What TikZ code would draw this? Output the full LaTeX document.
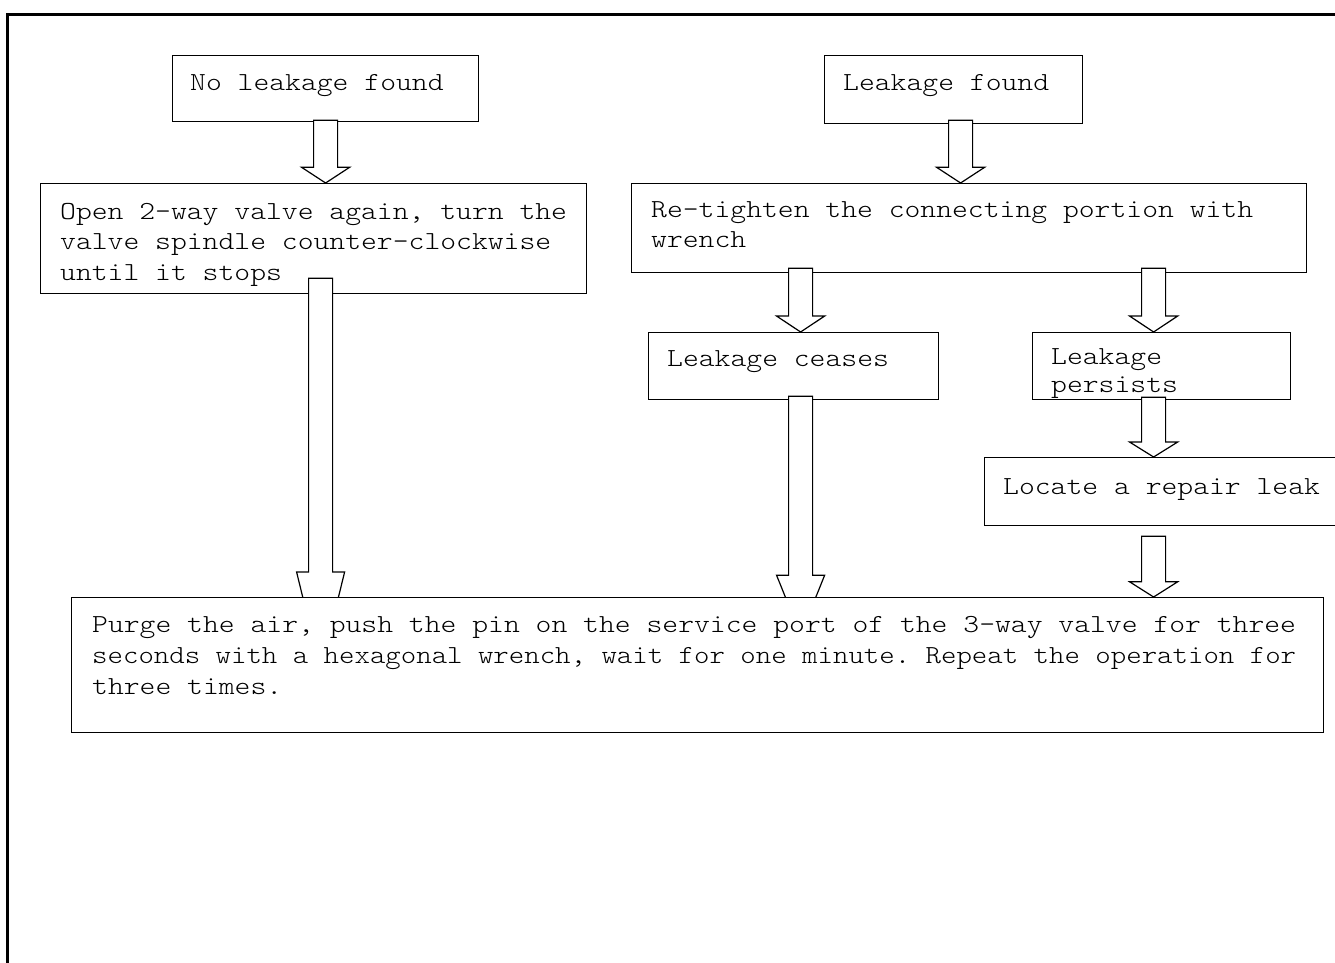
\documentclass[tikz,border=0pt]{standalone}
\usepackage{fontspec}
\usepackage{graphicx}
\newfontfamily\cour{lmmonolt10-regular.otf}[FakeStretch=1.1605]
\usetikzlibrary{calc}
\tikzset{
  box/.style={draw, fill=white, line width=1.2pt, inner sep=0pt, anchor=north west},
  txt/.style={anchor=north west, inner sep=0pt, align=left,
    font={\cour\fontsize{26}{30.7}\selectfont\frenchspacing}},
  barrow/.style={draw, fill=white, line width=1.2pt, line join=miter},
  frame/.style={line width=3pt}
}
% #1 source anchor (gives shaft top y), #2 tip point, #3 overlap of the shaft into the source
\newcommand\blockarr[3]{%
  \path[barrow] let \p1=(#1), \p2=(#2) in
    ({\x2-12pt},{\y1+#3}) -- ({\x2+12pt},{\y1+#3})
    -- ({\x2+12pt},{\y2+0.25*(\y1+#3-\y2)}) -- ({\x2+24pt},{\y2+0.25*(\y1+#3-\y2)})
    -- (\x2,\y2)
    -- ({\x2-24pt},{\y2+0.25*(\y1+#3-\y2)}) -- ({\x2-12pt},{\y2+0.25*(\y1+#3-\y2)})
    -- cycle;}
\begin{document}
\begin{tikzpicture}[x=1pt,y=-1pt]
\useasboundingbox (0,0) rectangle (1335,962);
% outer frame (top and left edges)
\draw[frame] (7.5,980) -- (7.5,14) -- (1350,14);
% boxes
\node[box, minimum width=306pt, minimum height=66pt] (b1) at (172,55) {};
\node[box, minimum width=546pt, minimum height=110pt] (b2) at (40,183) {};
\node[box, minimum width=258pt, minimum height=68pt] (b3) at (824,55) {};
\node[box, minimum width=675pt, minimum height=89pt] (b4) at (631,183) {};
\node[box, minimum width=290pt, minimum height=67pt] (b5) at (648,332) {};
\node[box, minimum width=258pt, minimum height=67pt] (b6) at (1032,332) {};
\node[box, minimum width=400pt, minimum height=68pt] (b7) at (984,457) {};
% block arrows
\blockarr{b1.south}{b2.north -| b1.south}{2pt}
\blockarr{b3.south}{$(b3.south |- b4.north)+(7,0)$}{4pt}
\blockarr{b4.south}{$(b5.north)+(7,0)$}{5pt}
\blockarr{b4.south}{$(b6.north)+(-8,0)$}{5pt}
\blockarr{b6.south}{$(b6.south |- b7.north)+(-8,0)$}{3pt}
\coordinate (b8nw) at (71,597);
\blockarr{b2.south}{$(b2.south |- b8nw)+(7,73)$}{16pt}
\blockarr{b5.south}{$(b5.south |- b8nw)+(7,38)$}{4pt}
\blockarr{b7.south}{$(b6.south |- b8nw)+(-8,0)$}{-10pt}
\node[box, minimum width=1252pt, minimum height=135pt] (b8) at (b8nw) {};
% texts
\node[txt] (t1) at (190,68.5) {\strut No leakage found};
\node[txt] (t2) at (60,197.5) {\strut Open 2-way valve again, turn the\\valve spindle counter-clockwise\\until it stops};
\node[txt] (t3) at (843,68.5) {\strut Leakage found};
\node[txt] (t4) at (651,195.5) {\strut Re-tighten the connecting portion with\\wrench};
\node[txt] (t5) at (667,344.5) {\strut Leakage ceases};
\node[txt] (t6) at (1051,342.5) {\strut Leakage\\[-2.3pt]persists};
\node[txt] (t7) at (1003,472.5) {\strut Locate a repair leak};
\node[txt] (t8) at (92,611) {\strut Purge the air, push the pin on the service port of the 3-way valve for three\\\scalebox{0.9744}[1]{seconds with a hexagonal wrench, wait for one minute. Repeat the operation for}\\three times.};
\end{tikzpicture}
\end{document}
